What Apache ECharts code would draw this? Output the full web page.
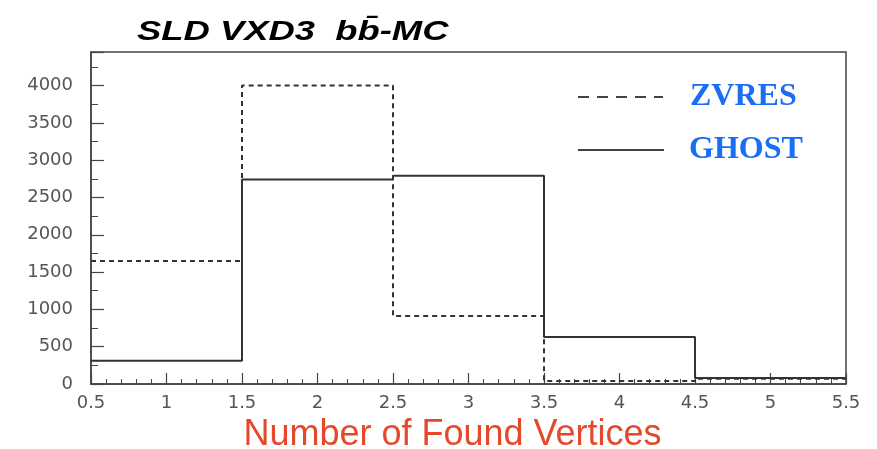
<!DOCTYPE html>
<html><head><meta charset="utf-8">
<script src="https://cdn.jsdelivr.net/npm/echarts@6/dist/echarts.min.js"></script>
<style>html,body{margin:0;padding:0;background:#fff}#c{width:877px;height:449px}</style>
</head><body><div id="c"></div>
<script>
const binEdges = [0.5, 1.5, 2.5, 3.5, 4.5, 5.5];
const zvresCounts = [1650, 4000, 910, 40, 70];
const ghostCounts = [310, 2740, 2790, 630, 80];
const xTickLabels = ['0.5','1','1.5','2','2.5','3','3.5','4','4.5','5','5.5'];
const titleText = 'SLD VXD3  bb\u0304-MC';

function stepData(vals){
  const d = vals.map((v,i)=>[binEdges[i], v]);
  d.push([binEdges[binEdges.length-1], vals[vals.length-1]]);
  return d;
}
const chart = echarts.init(document.getElementById('c'));
const axisColor = '#444';
const labelStyle = {color:'#555', fontSize:18, fontFamily:'DejaVu Sans, sans-serif'};
const legendText = {color:'#1a6ef5', fontSize:32, fontWeight:'bold', fontFamily:'Liberation Serif, Times New Roman, serif', padding:[0,0,0,22]};
chart.setOption({
  animation:false,
  graphic:[{type:'text', x:137, y:18, scaleX:1.3, scaleY:1,
    style:{text:titleText, fill:'#000', font:'italic bold 28px "Liberation Sans", Arial, sans-serif', textVerticalAlign:'top'}}],
  grid:{left:91, right:31, top:52, bottom:65, show:true, borderColor:axisColor, borderWidth:1.5, backgroundColor:'#fff',
    outerBoundsMode:'none', containLabel:false},
  legend:[
    {data:[{name:'ZVRES', itemStyle:{opacity:0}, lineStyle:{type:[11,8], width:2, color:'#444'}}], left:577, top:81, padding:0, itemWidth:85, itemHeight:14,
     textStyle:legendText},
    {data:[{name:'GHOST', itemStyle:{opacity:0}, lineStyle:{type:'solid', width:2, color:'#444'}}], left:577, top:134, padding:0, itemWidth:86, itemHeight:14,
     textStyle:Object.assign({}, legendText, {padding:[0,0,0,20]})}
  ],
  xAxis:{type:'value', min:0.5, max:5.5, interval:0.5,
    name:'Number of Found Vertices', nameLocation:'middle', nameGap:32,
    nameTextStyle:{color:'#e5482a', fontSize:36, fontFamily:'Liberation Sans, Arial, sans-serif', padding:[0,32,0,0]},
    axisLine:{show:true, lineStyle:{color:axisColor, width:1.5}},
    axisTick:{show:true, inside:true, length:11, lineStyle:{color:axisColor, width:1.2}},
    minorTick:{show:true, splitNumber:5, length:5, lineStyle:{color:axisColor, width:1}},
    splitLine:{show:false},
    axisLabel:Object.assign({margin:10, formatter:(v)=>{const i=Math.round((v-0.5)/0.5); return xTickLabels[i]!==undefined?xTickLabels[i]:'';}}, labelStyle)},
  yAxis:{type:'value', min:0, max:4450, interval:500,
    axisLine:{show:true, lineStyle:{color:axisColor, width:1.5}},
    axisTick:{show:true, inside:true, length:13, lineStyle:{color:axisColor, width:1.2}},
    minorTick:{show:true, splitNumber:2, length:7, lineStyle:{color:axisColor, width:1}},
    splitLine:{show:false},
    axisLabel:Object.assign({margin:18, showMaxLabel:false, formatter:(v)=>String(v)}, labelStyle)},
  series:[
    {name:'ZVRES', type:'line', step:'end', data:stepData(zvresCounts), symbol:'none', itemStyle:{color:'#333'},
     lineStyle:{color:'#333', width:2, type:[5,4]}},
    {name:'GHOST', type:'line', step:'end', data:stepData(ghostCounts), symbol:'none', itemStyle:{color:'#333'},
     lineStyle:{color:'#333', width:2, type:'solid'}}
  ]
});
</script></body></html>
